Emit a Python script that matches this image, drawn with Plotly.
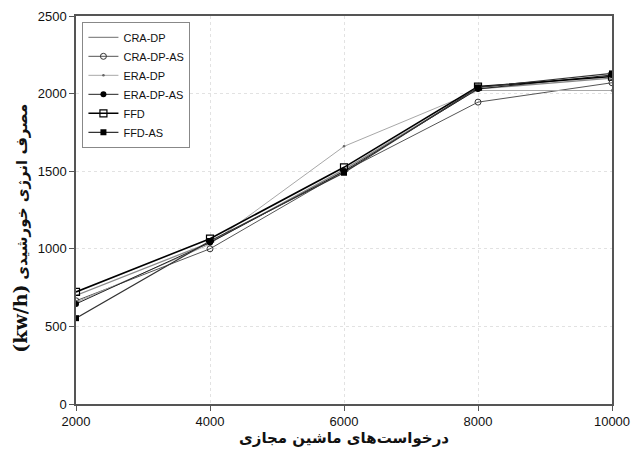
import plotly.graph_objects as go

x_vals = [2000, 4000, 6000, 8000, 10000]
x_ticktext = ["2000", "4000", "6000", "8000", "10000"]
y_ticks = [0, 500, 1000, 1500, 2000, 2500]

cra_dp = [700, 1040, 1510, 2030, 2100]
cra_dp_as = [665, 1000, 1500, 1945, 2070]
era_dp = [655, 1030, 1660, 2020, 2020]
era_dp_as = [645, 1040, 1500, 2030, 2120]
ffd = [722, 1065, 1525, 2045, 2110]
ffd_as = [553, 1050, 1490, 2040, 2130]

x_title = "درخواست‌های ماشین مجازی"
y_title_unit = "(kw/h)"
y_title_text = "مصرف انرژی خورشیدی"

series = [
    ("CRA-DP", cra_dp, dict(color="#8a8a8a", width=1.3), dict(size=1, opacity=0), "lines"),
    ("CRA-DP-AS", cra_dp_as, dict(color="#555555", width=1),
     dict(symbol="circle-open", size=6, color="#333333", line=dict(width=1)), "lines+markers"),
    ("ERA-DP", era_dp, dict(color="#a8a8a8", width=1),
     dict(symbol="circle", size=2.5, color="#666666"), "lines+markers"),
    ("ERA-DP-AS", era_dp_as, dict(color="#222222", width=1),
     dict(symbol="circle", size=6, color="#000000"), "lines+markers"),
    ("FFD", ffd, dict(color="#000000", width=1.6),
     dict(symbol="square-open", size=7, color="#000000", line=dict(width=1.2)), "lines+markers"),
    ("FFD-AS", ffd_as, dict(color="#333333", width=1.2),
     dict(symbol="square", size=6, color="#000000"), "lines+markers"),
]

fig = go.Figure()
for name, vals, line, marker, mode in series:
    fig.add_trace(go.Scatter(x=x_vals, y=vals, name=name, mode=mode, line=line, marker=marker))

axis_common = dict(
    showline=True, linecolor="#555555", linewidth=1.5, mirror=True,
    ticks="outside", ticklen=5, tickcolor="#555555",
    showgrid=True, gridcolor="#e2e2e2", griddash="dot", gridwidth=1,
    zeroline=False, automargin=False,
    tickfont=dict(family="Liberation Sans, Arial, sans-serif", size=13, color="#111111"),
)

y_title_html = ('<span style="font-family:\'DejaVu Serif\', serif;font-size:19px"><b>'
                + y_title_unit + '</b></span> <b>' + y_title_text + '</b>')

fig.update_layout(
    width=633, height=450,
    margin=dict(l=76, r=21, t=16, b=46),
    paper_bgcolor="white", plot_bgcolor="white",
    xaxis=dict(range=[2000, 10000], tickvals=x_vals, ticktext=x_ticktext, **axis_common,
               title=dict(text="<b>" + x_title + "</b>", standoff=0,
                          font=dict(family="DejaVu Sans, sans-serif", size=15, color="#111111"))),
    yaxis=dict(range=[0, 2500], tickvals=y_ticks, **axis_common),
    annotations=[dict(text=y_title_html, xref="paper", yref="paper", x=-0.105, y=0.4536,
                      xanchor="center", yanchor="middle", textangle=-90, showarrow=False,
                      font=dict(family="DejaVu Sans, sans-serif", size=15, color="#111111"))],
    legend=dict(x=0.012, y=0.985, xanchor="left", yanchor="top",
                bordercolor="#888888", borderwidth=1, bgcolor="white",
                font=dict(family="Liberation Sans, Arial, sans-serif", size=11, color="#111111"),
                tracegroupgap=0, itemwidth=30),
    showlegend=True,
)

fig.write_html("out.html")
